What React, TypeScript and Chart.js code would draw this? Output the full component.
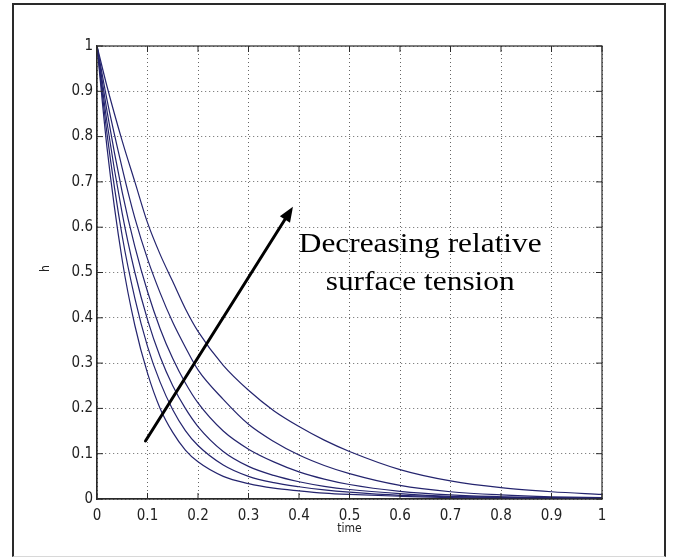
import React, { useEffect, useRef } from "react";
import { Chart, registerables } from "chart.js";

Chart.register(...registerables);

// time samples (x)
const timePoints = [0, 0.02, 0.05, 0.075, 0.1, 0.125, 0.15, 0.175, 0.2, 0.25, 0.3, 0.35, 0.4, 0.45, 0.5, 0.6, 0.7, 0.8, 0.9, 1.0];

// h(t) for each surface-tension case (outermost → innermost)
const curve1 = [1, 0.91, 0.79, 0.7, 0.61, 0.54, 0.48, 0.42, 0.37, 0.295, 0.24, 0.195, 0.16, 0.13, 0.105, 0.065, 0.04, 0.025, 0.016, 0.01];
const curve2 = [1, 0.88, 0.73, 0.62, 0.53, 0.455, 0.39, 0.335, 0.285, 0.22, 0.165, 0.127, 0.097, 0.074, 0.056, 0.03, 0.016, 0.009, 0.005, 0.003];
const curve3 = [1, 0.855, 0.677, 0.557, 0.458, 0.376, 0.31, 0.256, 0.212, 0.15, 0.11, 0.082, 0.06, 0.044, 0.032, 0.017, 0.009, 0.005, 0.003, 0.002];
const curve4 = [1, 0.83, 0.63, 0.5, 0.396, 0.314, 0.25, 0.2, 0.16, 0.105, 0.072, 0.052, 0.038, 0.028, 0.021, 0.012, 0.006, 0.004, 0.002, 0.001];
const curve5 = [1, 0.805, 0.58, 0.443, 0.337, 0.258, 0.197, 0.151, 0.118, 0.075, 0.05, 0.036, 0.027, 0.02, 0.015, 0.008, 0.005, 0.003, 0.002, 0.001];
const curve6 = [1, 0.774, 0.527, 0.383, 0.278, 0.2, 0.147, 0.108, 0.082, 0.05, 0.034, 0.024, 0.018, 0.013, 0.01, 0.006, 0.003, 0.002, 0.001, 0.001];

const allCurves = [curve1, curve2, curve3, curve4, curve5, curve6];

// tick labels
const xTickLabels = ["0", "0.1", "0.2", "0.3", "0.4", "0.5", "0.6", "0.7", "0.8", "0.9", "1"];
const yTickLabels = ["0", "0.1", "0.2", "0.3", "0.4", "0.5", "0.6", "0.7", "0.8", "0.9", "1"];

const xAxisTitle = "time";
const yAxisTitle = "h";

// annotation (data units)
const arrowStart = [0.096, 0.128];
const arrowEnd = [0.388, 0.645];
const annotationLines = ["Decreasing relative", "surface tension"];
const annotationX = 0.64;
const annotationBaselines = [0.545, 0.461];

const TICK_FONT = '"Liberation Sans Narrow", "DejaVu Sans Condensed", "Arial Narrow", sans-serif';
const LINE_COLOR = "#24246e";

const decorPlugin = {
  id: "decor",
  afterDraw(chart: any) {
    const { ctx, chartArea: ca, scales } = chart;
    const xs = scales.x;
    const ys = scales.y;
    ctx.save();

    // full box
    ctx.strokeStyle = "#2a2a2a";
    ctx.lineWidth = 1.2;
    ctx.setLineDash([]);
    ctx.strokeRect(ca.left, ca.top, ca.right - ca.left, ca.bottom - ca.top);

    // inward ticks on all sides
    const tl = 6;
    ctx.lineWidth = 1;
    ctx.beginPath();
    for (let i = 0; i < xTickLabels.length; i++) {
      const px = xs.getPixelForValue(i / 10);
      ctx.moveTo(px, ca.bottom);
      ctx.lineTo(px, ca.bottom - tl);
      ctx.moveTo(px, ca.top);
      ctx.lineTo(px, ca.top + tl);
    }
    for (let i = 0; i < yTickLabels.length; i++) {
      const py = ys.getPixelForValue(i / 10);
      ctx.moveTo(ca.left, py);
      ctx.lineTo(ca.left + tl, py);
      ctx.moveTo(ca.right, py);
      ctx.lineTo(ca.right - tl, py);
    }
    ctx.stroke();

    // axis titles
    ctx.fillStyle = "#222";
    ctx.font = `12px ${TICK_FONT}`;
    ctx.textAlign = "center";
    ctx.textBaseline = "middle";
    ctx.fillText(xAxisTitle, (ca.left + ca.right) / 2, 529);
    ctx.save();
    ctx.translate(46, (ca.top + ca.bottom) / 2 - 4);
    ctx.rotate(-Math.PI / 2);
    ctx.fillText(yAxisTitle, 0, 0);
    ctx.restore();

    // arrow
    const x0 = xs.getPixelForValue(arrowStart[0]);
    const y0 = ys.getPixelForValue(arrowStart[1]);
    const x1 = xs.getPixelForValue(arrowEnd[0]);
    const y1 = ys.getPixelForValue(arrowEnd[1]);
    const ang = Math.atan2(y1 - y0, x1 - x0);
    const headLen = 15;
    const headHalf = 6;
    const bx = x1 - headLen * Math.cos(ang);
    const by = y1 - headLen * Math.sin(ang);
    ctx.strokeStyle = "#000";
    ctx.lineWidth = 3;
    ctx.lineCap = "round";
    ctx.beginPath();
    ctx.moveTo(x0, y0);
    ctx.lineTo(bx + 2 * Math.cos(ang), by + 2 * Math.sin(ang));
    ctx.stroke();
    ctx.fillStyle = "#000";
    ctx.beginPath();
    ctx.moveTo(x1, y1);
    ctx.lineTo(bx + headHalf * Math.sin(ang), by - headHalf * Math.cos(ang));
    ctx.lineTo(bx - headHalf * Math.sin(ang), by + headHalf * Math.cos(ang));
    ctx.closePath();
    ctx.fill();

    // annotation text
    ctx.font = '28px "Liberation Serif", "Times New Roman", serif';
    ctx.textAlign = "center";
    ctx.textBaseline = "alphabetic";
    ctx.fillStyle = "#000";
    const cx = xs.getPixelForValue(annotationX);
    annotationLines.forEach((line, i) => {
      const py = ys.getPixelForValue(annotationBaselines[i]);
      ctx.save();
      ctx.translate(cx, py);
      ctx.scale(1.12, 1);
      ctx.fillText(line, 0, 0);
      ctx.restore();
    });

    ctx.restore();
  },
};

export default function App() {
  const canvasRef = useRef<HTMLCanvasElement | null>(null);

  useEffect(() => {
    const canvas = canvasRef.current;
    if (!canvas) return;

    const datasets = allCurves.map((vals, k) => ({
      label: `case ${k + 1}`,
      data: timePoints.map((t, i) => ({ x: t, y: vals[i] })),
      borderColor: LINE_COLOR,
      borderWidth: 1.2,
      pointRadius: 0,
      fill: false,
      cubicInterpolationMode: "monotone" as const,
    }));

    const chart = new Chart(canvas, {
      type: "line",
      data: { datasets },
      options: {
        animation: false,
        responsive: false,
        devicePixelRatio: 1,
        layout: { padding: { left: 0, right: 79, top: 46, bottom: 0 } },
        plugins: {
          legend: { display: false },
          tooltip: { enabled: false },
        },
        scales: {
          x: {
            type: "linear",
            min: 0,
            max: 1,
            ticks: {
              stepSize: 0.1,
              autoSkip: false,
              maxRotation: 0,
              padding: 8,
              color: "#222",
              font: { family: TICK_FONT, size: 15 },
              callback: (v: any) => xTickLabels[Math.round(Number(v) * 10)] ?? "",
            },
            grid: { color: "rgba(0,0,0,0.6)", lineWidth: 1, drawTicks: false },
            border: { display: true, color: "#2a2a2a", width: 1.2, dash: [1, 3] },
            afterFit: (s: any) => {
              s.height = 61;
            },
          },
          y: {
            type: "linear",
            min: 0,
            max: 1,
            ticks: {
              stepSize: 0.1,
              autoSkip: false,
              padding: 4,
              color: "#222",
              font: { family: TICK_FONT, size: 15 },
              callback: (v: any) => yTickLabels[Math.round(Number(v) * 10)] ?? "",
            },
            grid: { color: "rgba(0,0,0,0.6)", lineWidth: 1, drawTicks: false },
            border: { display: true, color: "#2a2a2a", width: 1.2, dash: [1, 3] },
            afterFit: (s: any) => {
              s.width = 97;
            },
          },
        },
      },
      plugins: [decorPlugin],
    });

    return () => chart.destroy();
  }, []);

  return (
    <div style={{ position: "absolute", left: 0, top: 0, width: 681, height: 560, background: "#fff" }}>
      <div
        style={{
          position: "absolute",
          left: 12,
          top: 3,
          width: 650,
          height: 551,
          borderLeft: "2px solid #2a2a2a",
          borderTop: "2px solid #2a2a2a",
          borderRight: "2px solid #2a2a2a",
          borderBottom: "1px solid #d8d8d8",
        }}
      />
      <canvas
        ref={canvasRef}
        width={681}
        height={560}
        style={{ position: "absolute", left: 0, top: 0, width: 681, height: 560 }}
      />
    </div>
  );
}
